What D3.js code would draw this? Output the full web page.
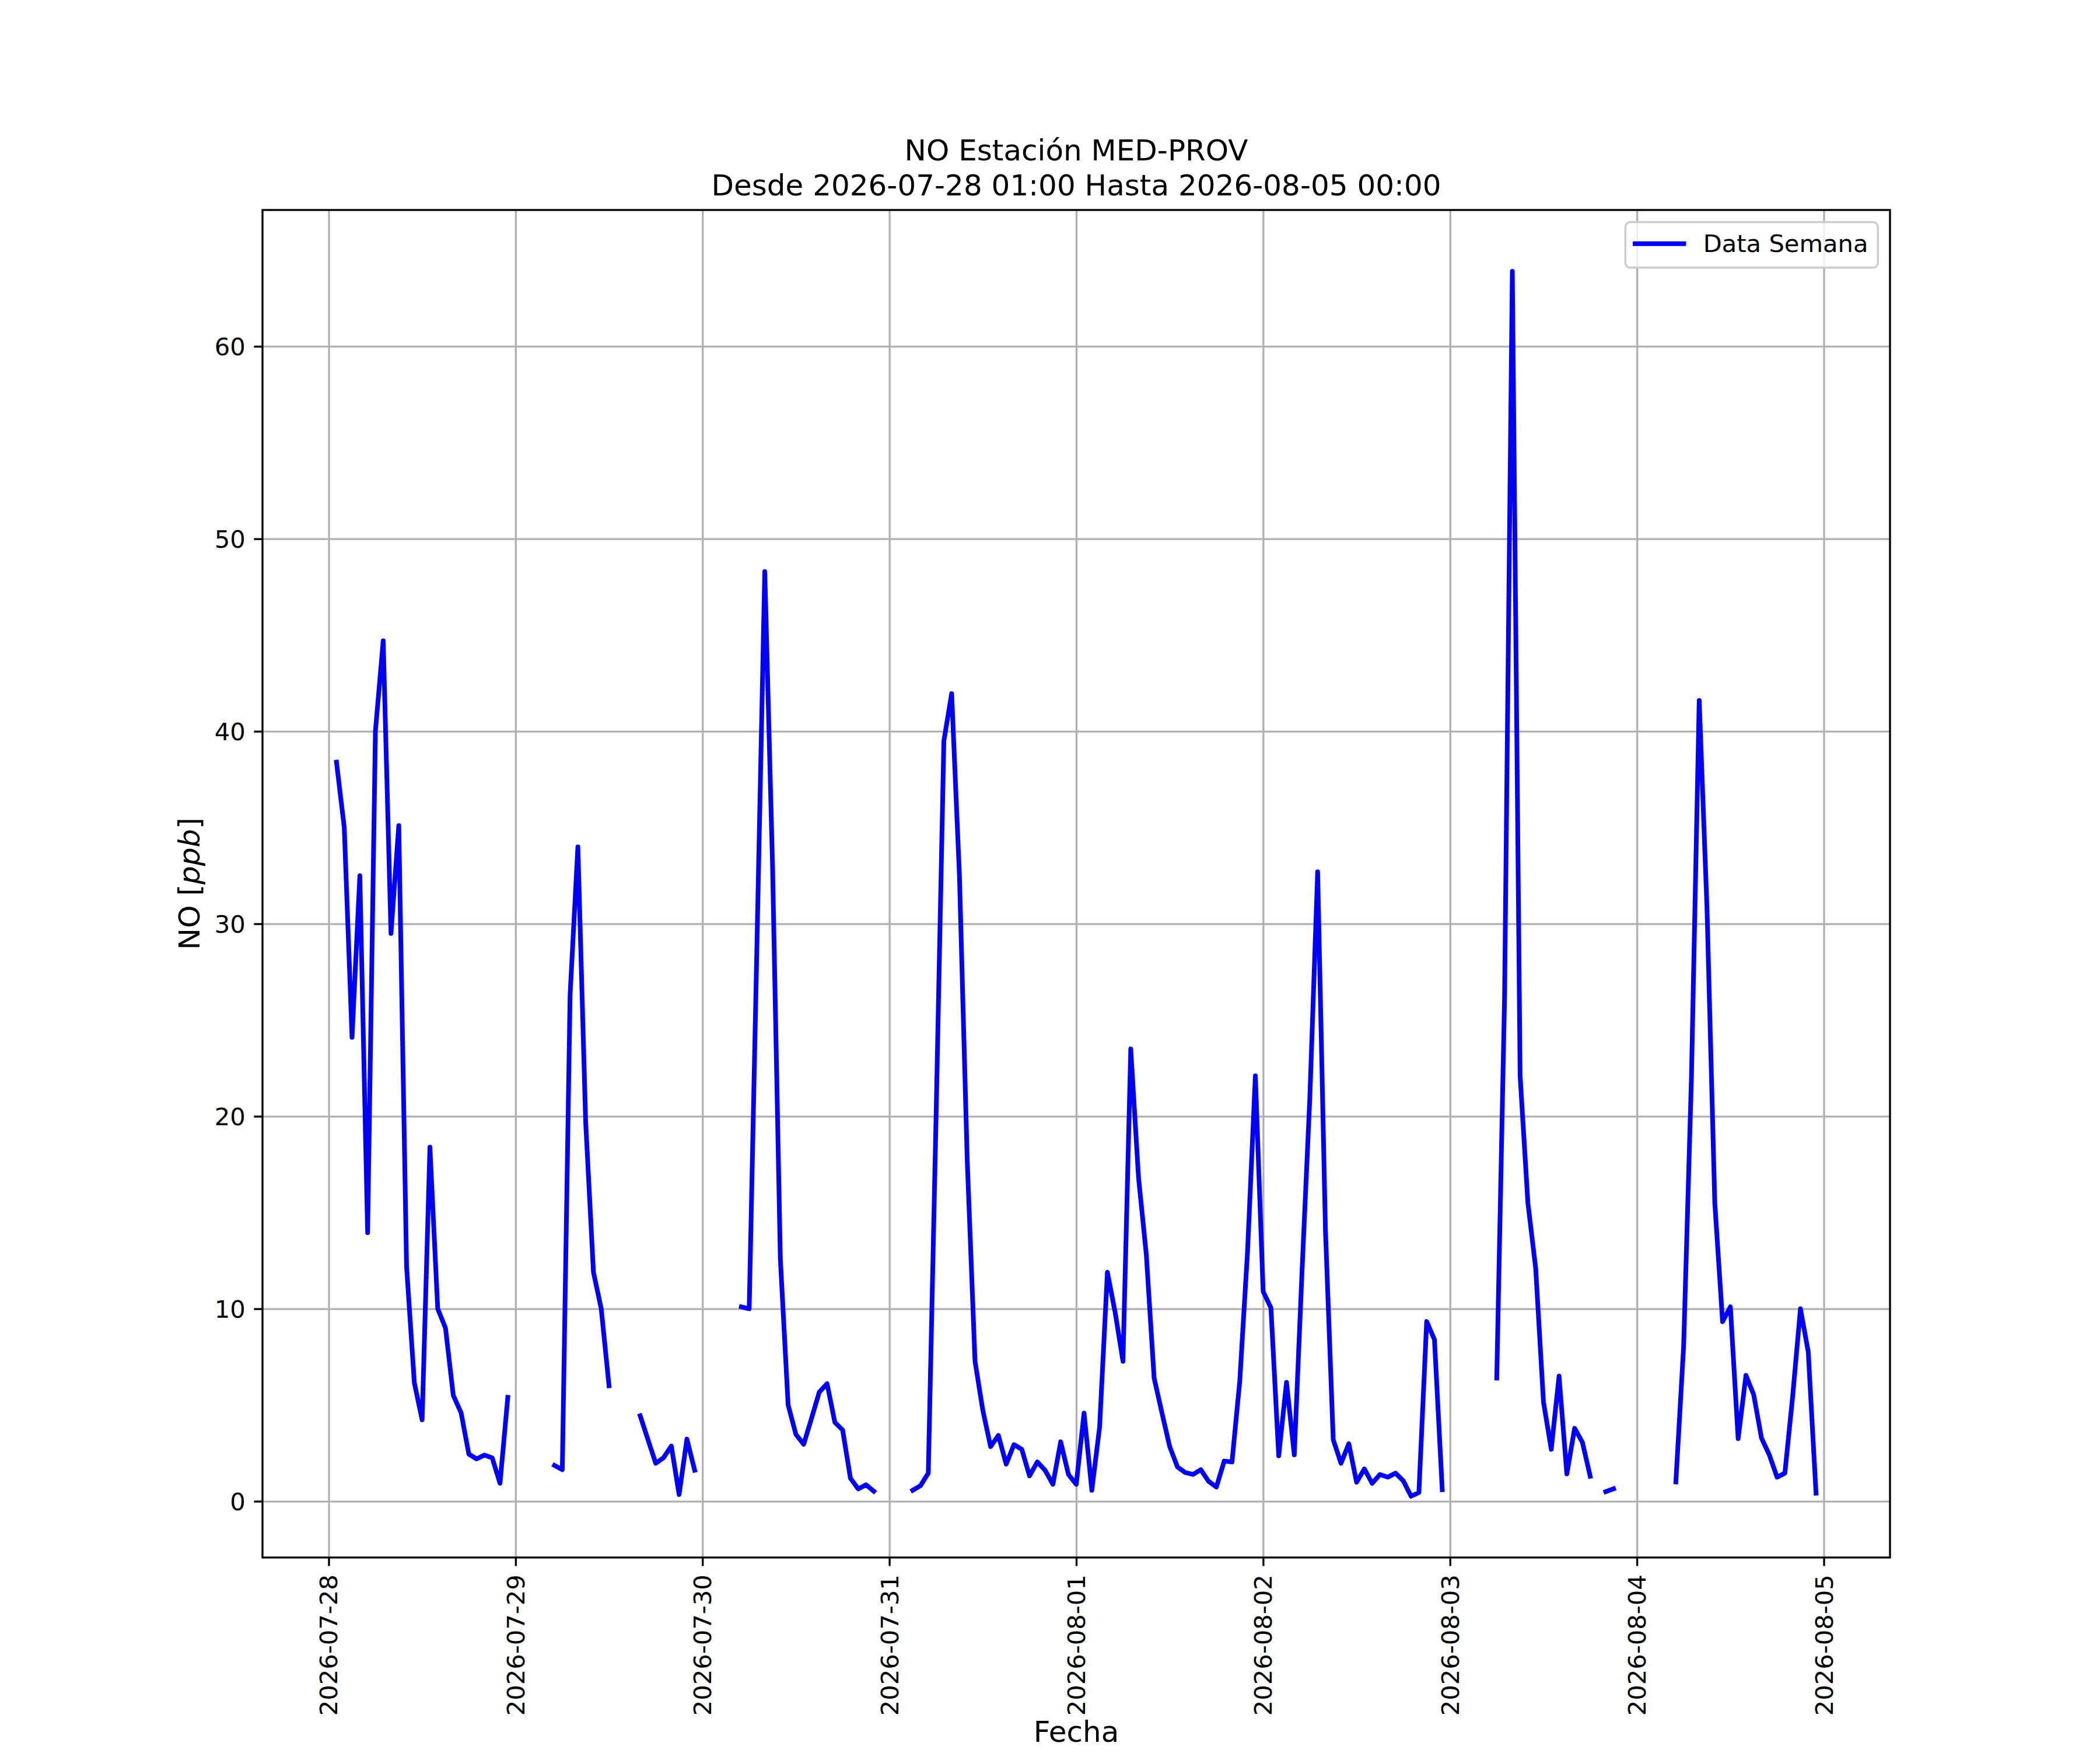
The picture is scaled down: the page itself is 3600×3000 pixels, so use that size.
<!DOCTYPE html>
<html>
<head>
<meta charset="utf-8">
<script src="https://cdn.jsdelivr.net/npm/d3@7"></script>
<style>
  body { margin: 0; background: #fff; }
  svg { display: block; }
  text { font-family: "DejaVu Sans", sans-serif; fill: #000; }
</style>
</head>
<body>
<svg id="chart"></svg>
<script>
// hourly NO readings starting at startTime, null = missing hour
const startTime = '2026-07-28 01:00';
const noValues = [
  38.4, 35.0, 24.1, 32.5, 13.95, 40.0, 44.7, 29.5, 35.1, 12.2, 6.15, 4.23,
  18.4, 10.0, 9.0, 5.5, 4.6, 2.45, 2.2, 2.4, 2.25, 0.93, 5.4,
  null, null, null, null, null,
  1.86, 1.64, 26.3, 34.0, 19.7, 11.9, 10.0, 6.0,
  null, null, null,
  4.44, 3.2, 1.97, 2.26, 2.87, 0.35, 3.23, 1.61,
  null, null, null, null, null,
  10.1, 10.0, 29.0, 48.3, 33.0, 12.6, 5.0, 3.47, 2.96, 4.3, 5.67, 6.11,
  4.1, 3.7, 1.2, 0.64, 0.86, 0.52,
  null, null, null, null,
  0.57, 0.81, 1.46, 20.0, 39.5, 41.96, 32.5, 17.7, 7.27, 4.73, 2.84, 3.42,
  1.93, 2.94, 2.7, 1.32, 2.04, 1.61, 0.88, 3.09, 1.39, 0.88,
  4.58, 0.57, 3.86, 11.9, 9.8, 7.27, 23.5, 16.8, 12.8, 6.4, 4.6, 2.84,
  1.78, 1.49, 1.39, 1.64, 1.03, 0.74, 2.09, 2.04, 6.25, 13.0, 22.1,
  10.9, 10.05, 2.36, 6.18, 2.41, 12.0, 21.0, 32.7, 14.1, 3.2, 1.97, 2.99,
  0.99, 1.68, 0.93, 1.39, 1.25, 1.46, 1.06, 0.26, 0.45, 9.34, 8.4, 0.6,
  null, null, null, null, null, null,
  6.4, 26.1, 63.9, 22.1, 15.5, 12.1, 5.16, 2.7, 6.5, 1.42, 3.79, 3.06, 1.3,
  null,
  0.5, 0.65,
  null, null, null, null, null, null, null,
  1.0, 8.06, 22.0, 41.6, 30.8, 15.5, 9.33, 10.1, 3.25, 6.54, 5.53, 3.28,
  2.41, 1.25, 1.46, 5.45, 10.0, 7.77, 0.42,
  null
];
const dayTicks = ['2026-07-28', '2026-07-29', '2026-07-30', '2026-07-31',
  '2026-08-01', '2026-08-02', '2026-08-03', '2026-08-04', '2026-08-05'];
const yTicks = [0, 10, 20, 30, 40, 50, 60];
const titleLines = ['NO Estación MED-PROV', 'Desde 2026-07-28 01:00 Hasta 2026-08-05 00:00'];
const legendLabel = 'Data Semana';

const W = 3600, H = 3000;
const pt = 300 / 72;
const box = { left: 450, right: 3240, top: 360, bottom: 2670 };
const fs = 10 * pt;      // tick / legend font
const fsBig = 12 * pt;   // title / axis labels
const lineW = 8;

const svg = d3.select('#chart').attr('width', W).attr('height', H);

const parseHour = d3.utcParse('%Y-%m-%d %H:%M');
const parseDay = d3.utcParse('%Y-%m-%d');
const t0 = parseHour(startTime);
const series = noValues.map((v, i) => ({ t: d3.utcHour.offset(t0, i), v }));
const valid = series.filter((d) => d.v !== null);

// 5% margins like the original
const [tMin, tMax] = d3.extent(valid, (d) => d.t);
const tPad = (tMax - tMin) * 0.05;
const x = d3.scaleUtc()
  .domain([new Date(+tMin - tPad), new Date(+tMax + tPad)])
  .range([box.left, box.right]);
const [vMin, vMax] = d3.extent(valid, (d) => d.v);
const vPad = (vMax - vMin) * 0.05;
const y = d3.scaleLinear()
  .domain([vMin - vPad, vMax + vPad])
  .range([box.bottom, box.top]);

const dayDates = dayTicks.map(parseDay);

// grid
const grid = svg.append('g');
grid.append('g')
  .attr('transform', `translate(0,${box.bottom})`)
  .call(d3.axisBottom(x).tickValues(dayDates).tickSize(-(box.bottom - box.top)).tickFormat(''))
  .call((g) => g.select('.domain').remove());
grid.append('g')
  .attr('transform', `translate(${box.left},0)`)
  .call(d3.axisLeft(y).tickValues(yTicks).tickSize(-(box.right - box.left)).tickFormat(''))
  .call((g) => g.select('.domain').remove());
grid.selectAll('line').attr('stroke', '#b0b0b0').attr('stroke-width', 0.8 * pt);

// data line
const line = d3.line()
  .defined((d) => d.v !== null)
  .x((d) => x(d.t))
  .y((d) => y(d.v));
svg.append('path')
  .datum(series)
  .attr('d', line)
  .attr('fill', 'none')
  .attr('stroke', '#0000ff')
  .attr('stroke-width', lineW)
  .attr('stroke-linejoin', 'round')
  .attr('stroke-linecap', 'square');

// axes
const fmtDay = d3.utcFormat('%Y-%m-%d');
const xAxis = svg.append('g')
  .attr('transform', `translate(0,${box.bottom})`)
  .call(d3.axisBottom(x).tickValues(dayDates).tickFormat(fmtDay)
    .tickSize(3.5 * pt).tickSizeOuter(0));
xAxis.select('.domain').remove();
xAxis.selectAll('.tick text')
  .attr('font-size', fs)
  .attr('font-family', 'DejaVu Sans')
  .attr('transform', 'rotate(-90)')
  .attr('x', -7 * pt)
  .attr('y', 0)
  .attr('dy', 0)
  .attr('dominant-baseline', 'central')
  .attr('text-anchor', 'end');

const yAxis = svg.append('g')
  .attr('transform', `translate(${box.left},0)`)
  .call(d3.axisLeft(y).tickValues(yTicks).tickFormat(d3.format('d'))
    .tickSize(3.5 * pt).tickPadding(3.5 * pt).tickSizeOuter(0));
yAxis.select('.domain').remove();
yAxis.selectAll('.tick text')
  .attr('font-size', fs)
  .attr('font-family', 'DejaVu Sans')
  .attr('dy', 0)
  .attr('dominant-baseline', 'central');

[xAxis, yAxis].forEach((a) => a.selectAll('.tick line')
  .attr('stroke', '#000').attr('stroke-width', 0.8 * pt));

// frame
svg.append('rect')
  .attr('x', box.left).attr('y', box.top)
  .attr('width', box.right - box.left).attr('height', box.bottom - box.top)
  .attr('fill', 'none').attr('stroke', '#000').attr('stroke-width', 0.8 * pt);

// title
const cx = (box.left + box.right) / 2;
svg.append('text')
  .attr('x', cx).attr('y', box.top - 6 * pt - 1.2 * fsBig)
  .attr('text-anchor', 'middle').attr('font-size', fsBig)
  .text(titleLines[0]);
svg.append('text')
  .attr('x', cx).attr('y', box.top - 6 * pt)
  .attr('text-anchor', 'middle').attr('font-size', fsBig)
  .text(titleLines[1]);

// axis labels
svg.append('text')
  .attr('x', cx).attr('y', 2986)
  .attr('text-anchor', 'middle').attr('font-size', fsBig)
  .text('Fecha');
const yl = svg.append('text')
  .attr('transform', `translate(342,${(box.top + box.bottom) / 2}) rotate(-90)`)
  .attr('text-anchor', 'middle').attr('font-size', fsBig);
yl.append('tspan').text('NO [');
yl.append('tspan').attr('font-style', 'italic').text('ppb');
yl.append('tspan').text(']');

// legend
const pad = 0.4 * fs, handle = 2 * fs, gap = 0.8 * fs;
const legendTop = box.top + 0.5 * fs;
const legendH = 78;
const lg = svg.append('g');
const frame = lg.append('rect');
const lt = lg.append('text')
  .attr('font-size', fs)
  .attr('dominant-baseline', 'central')
  .text(legendLabel);
const textW = lt.node().getComputedTextLength();
const legendW = pad + handle + gap + textW + pad;
const legendLeft = box.right - 0.5 * fs - legendW;
frame
  .attr('x', legendLeft).attr('y', legendTop)
  .attr('width', legendW).attr('height', legendH)
  .attr('rx', 0.2 * fs)
  .attr('fill', '#fff').attr('fill-opacity', 0.8)
  .attr('stroke', '#cccccc').attr('stroke-width', 3.5);
const midY = legendTop + legendH / 2 - 2;
lg.append('line')
  .attr('x1', legendLeft + pad).attr('x2', legendLeft + pad + handle)
  .attr('y1', midY).attr('y2', midY)
  .attr('stroke', '#0000ff').attr('stroke-width', lineW)
  .attr('stroke-linecap', 'square');
lt.attr('x', legendLeft + pad + handle + gap).attr('y', midY);
</script>
</body>
</html>
